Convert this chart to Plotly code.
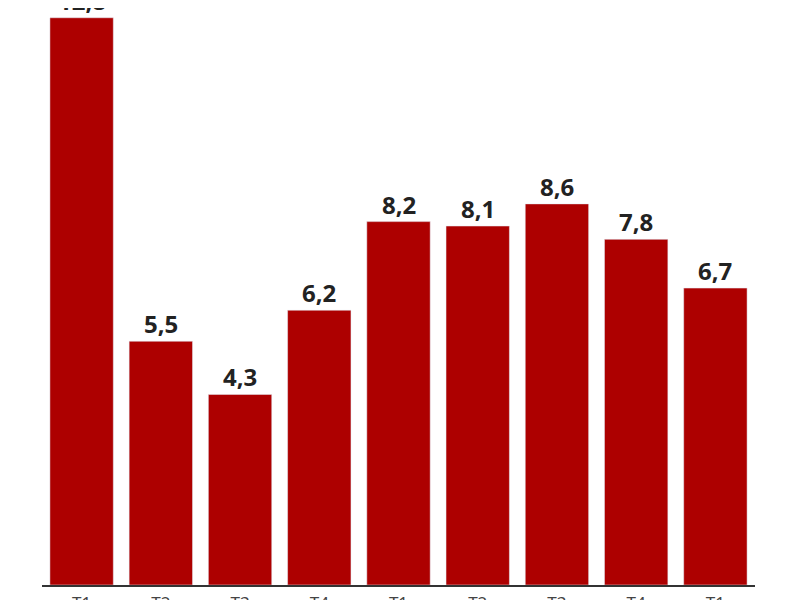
import plotly.graph_objects as go

quarters = ["T1", "T2", "T3", "T4", "T1", "T2", "T3", "T4", "T1"]
values = [12.8, 5.5, 4.3, 6.2, 8.2, 8.1, 8.6, 7.8, 6.7]
labels = [f"{v:.1f}".replace(".", ",") for v in values]
positions = list(range(len(quarters)))

fig = go.Figure(go.Bar(
    x=positions, y=values,
    marker_color="#ad0000", cliponaxis=False,
))
for xp, v, t in zip(positions, values, labels):
    fig.add_annotation(x=xp, y=v, text=t, showarrow=False, yanchor="bottom",
                       yshift=-1,
                       font=dict(family="Noto Sans", size=24, color="#222222", weight="bold"))
fig.update_layout(
    width=792, height=592,
    margin=dict(l=34, r=45, t=0, b=15, autoexpand=False),
    paper_bgcolor="white", plot_bgcolor="white",
    bargap=0.2, showlegend=False,
)
fig.update_xaxes(tickvals=positions, ticktext=quarters, showline=True,
                 linecolor="#333333", linewidth=2, ticks="", showgrid=False,
                 automargin=False, ticklabelstandoff=2,
                 tickfont=dict(family="Noto Sans", size=17, color="#444444"),
                 range=[-0.5, 8.5])
fig.update_yaxes(range=[0, 13.02], visible=False, showgrid=False, automargin=False)
fig.write_html("out.html")
